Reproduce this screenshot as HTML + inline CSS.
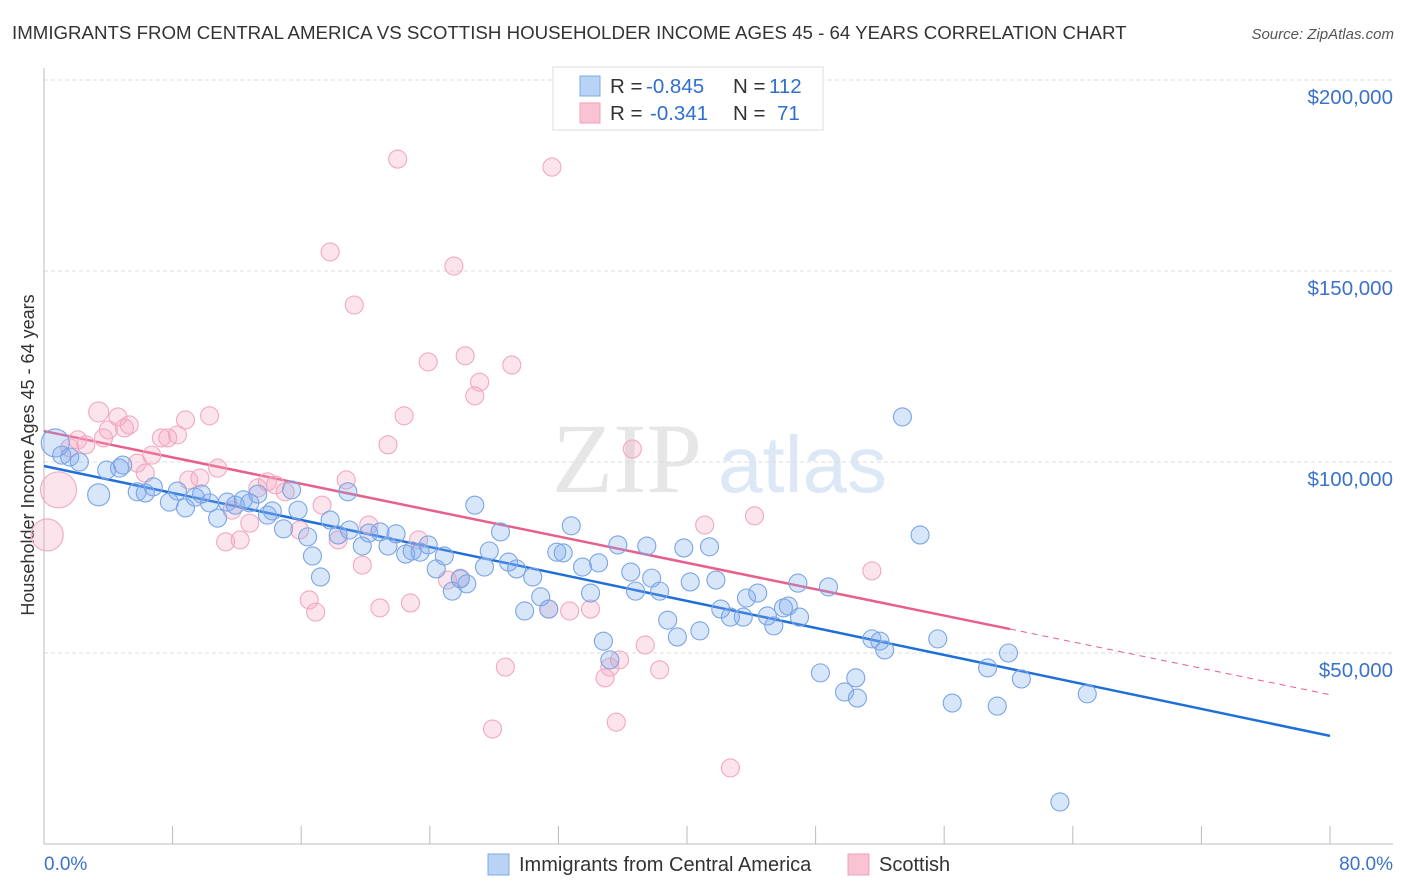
<!DOCTYPE html>
<html><head><meta charset="utf-8"><style>
body{margin:0;background:#fff;width:1406px;height:892px;overflow:hidden;font-family:"Liberation Sans",sans-serif}
svg{position:absolute;left:0;top:0}
</style></head><body>
<svg id="c" width="1406" height="892" xmlns="http://www.w3.org/2000/svg">
<text x="12" y="39" font-size="18.7" fill="#333">IMMIGRANTS FROM CENTRAL AMERICA VS SCOTTISH HOUSEHOLDER INCOME AGES 45 - 64 YEARS CORRELATION CHART</text>
<text x="1394" y="39" font-size="15" fill="#555" font-style="italic" text-anchor="end">Source: ZipAtlas.com</text>
<text transform="translate(34,455) rotate(-90)" font-size="18" fill="#333" text-anchor="middle">Householder Income Ages 45 - 64 years</text>
<g>
<text x="552" y="492" font-size="100" font-family="Liberation Serif,serif" fill="#e6e6e6">ZIP</text>
<text x="718" y="492" font-size="80" fill="#dde8f6">atlas</text>
</g>
<g id="grid"></g><g id="axes"></g><g id="lines"></g><g id="pts"></g>
<g>
<rect x="553" y="67" width="270" height="63" fill="#fff" stroke="#ddd"/>
<rect x="580" y="76" width="20" height="20" fill="#b9d3f5" stroke="#7fa9e6"/>
<rect x="580" y="103" width="20" height="20" fill="#f9c3d3" stroke="#f0a0b8"/>
<g font-size="20.5" fill="#333">
<text x="610" y="93">R =</text><text x="646" y="93" fill="#2e6fd0">-0.845</text><text x="733" y="93">N =</text><text x="769" y="93" fill="#2e6fd0">112</text>
<text x="610" y="120">R =</text><text x="650" y="120" fill="#2e6fd0">-0.341</text><text x="733" y="120">N =</text><text x="777" y="120" fill="#2e6fd0">71</text>
</g>
</g>
<g>
<rect x="488" y="854" width="21" height="21" fill="#b9d3f5" stroke="#7fa9e6"/>
<text x="519" y="871" font-size="20" fill="#333">Immigrants from Central America</text>
<rect x="848" y="854" width="21" height="21" fill="#f9c3d3" stroke="#f0a0b8"/>
<text x="879" y="871" font-size="20" fill="#333">Scottish</text>
</g>
</svg>
<script>
const yTicks=[50,100,150,200];
const xTickCount=10;
const blueX=[0.7,1.1,1.6,2.2,3.4,3.9,4.7,4.9,5.8,6.3,6.8,7.8,8.3,8.8,9.4,9.8,10.3,10.8,11.4,11.9,12.4,12.8,13.3,13.9,14.2,14.9,15.4,15.8,16.4,16.7,17.2,17.8,18.3,18.9,19.0,19.8,20.2,20.9,21.4,21.9,22.5,22.9,23.4,23.9,24.4,24.9,25.4,25.9,26.3,26.8,27.4,27.7,28.4,28.9,29.4,29.9,30.4,30.9,31.4,31.9,32.3,32.8,33.5,34.0,34.5,34.8,35.2,35.7,36.5,36.8,37.5,37.8,38.3,38.8,39.4,39.8,40.2,40.8,41.4,41.8,42.1,42.7,43.5,43.7,44.4,45.0,45.4,46.0,46.3,46.9,47.0,48.3,48.8,49.8,50.5,50.6,51.5,52.0,52.3,53.4,54.5,55.6,56.5,58.7,59.3,60.0,60.8,63.2,64.9];
const blueY=[105.0,101.8,101.3,100.0,91.4,97.9,98.4,99.2,92.2,91.9,93.5,89.5,92.4,88.0,90.8,91.6,89.3,85.3,89.5,88.7,90.1,89.3,91.6,86.1,87.2,82.5,92.7,87.4,80.4,75.4,69.9,84.8,80.9,92.2,82.2,78.0,81.4,81.7,78.0,81.2,75.9,76.7,76.4,78.3,72.0,75.4,66.2,69.4,68.1,88.7,72.5,76.7,81.7,73.8,72.0,61.0,69.9,64.7,61.5,76.4,76.2,83.3,72.5,65.7,73.6,53.1,48.2,78.3,71.2,66.2,78.0,69.6,66.2,58.6,54.2,77.5,68.6,55.8,77.8,69.1,61.5,59.4,59.4,64.4,65.7,59.7,57.1,61.8,62.3,68.3,59.4,44.8,67.3,39.8,43.5,38.2,53.7,53.1,50.8,111.8,80.9,53.7,36.9,46.1,36.1,50.0,43.2,11.0,39.3];
const blueSize=[14,9,9,9,11];
const pinkX=[0.2,0.9,1.6,2.1,2.6,3.4,3.7,4.0,4.6,5.0,5.3,5.8,6.3,6.7,7.3,7.7,8.3,8.8,10.3,9.0,9.7,10.8,11.3,11.7,12.2,12.8,13.3,13.9,14.4,15.0,15.9,16.5,16.9,17.3,17.8,18.3,18.8,19.3,19.8,20.2,20.9,21.4,22.0,22.4,22.8,23.3,23.9,25.1,25.5,25.9,26.2,26.8,27.1,27.9,28.7,29.1,31.4,31.6,32.7,34.0,34.9,35.2,35.6,35.8,36.6,37.4,38.3,41.1,42.7,44.2,51.5];
const pinkY=[80.9,92.7,103.7,105.8,104.5,113.1,106.3,108.4,111.8,108.9,109.7,99.7,97.1,101.8,106.3,106.3,107.1,111.0,112.1,95.3,95.8,98.4,79.1,87.4,79.6,84.0,93.2,94.8,94.0,92.2,82.2,63.9,60.7,88.7,155.0,79.6,95.3,141.1,73.0,83.5,61.8,104.5,179.3,112.1,63.1,79.6,126.2,69.1,151.3,69.6,127.8,117.3,120.9,30.1,46.3,125.4,61.5,177.2,61.0,61.5,43.5,46.3,31.9,48.2,103.4,52.1,45.6,83.5,19.9,85.9,71.5];
const pinkSize=[16,18,9,9,9,10];
const blueLine=[98.95,28.3];
const pinkLine=[108.1,39.1];
const pinkSolidEnd=60.1;

const NS="http://www.w3.org/2000/svg";
const X=v=>44+v*(1286/80);
const Y=v=>844-v*191/50;
function mk(t,a,p){const e=document.createElementNS(NS,t);for(const k in a)e.setAttribute(k,a[k]);p.appendChild(e);return e;}
const grid=document.getElementById('grid'),axes=document.getElementById('axes'),lines=document.getElementById('lines'),pts=document.getElementById('pts');
yTicks.forEach(v=>{
 const l=mk('line',{x1:44,x2:1393,y1:Y(v),y2:Y(v),stroke:'#ddd','stroke-dasharray':'4,3'},grid);
 
 
 const t=mk('text',{x:1393,y:Y(v)+24,'font-size':20.5,fill:'#3b73c9','text-anchor':'end'},axes);
 t.textContent='$'+v+',000';
 
 
});
const ax=mk('line',{x1:44,x2:1393,y1:844,y2:844,stroke:'#bbb'},axes);


const ay=mk('line',{x1:44,x2:44,y1:68,y2:844,stroke:'#bbb'},axes);


for(let i=1;i<=xTickCount;i++){const t=mk('line',{x1:X(i*8),x2:X(i*8),y1:826,y2:844,stroke:'#bbb'},axes);
 
 }
[[0,'0.0%','start',44],[80,'80.0%','end',1393]].forEach(d=>{const t=mk('text',{x:d[3],y:870,'font-size':19,fill:'#3b73c9','text-anchor':d[2]},axes);t.textContent=d[1];
 
 });
const lf=(c,x)=>c[0]+(c[1]-c[0])*x/80;
const bl=mk('line',{x1:X(0),y1:Y(lf(blueLine,0)),x2:X(80),y2:Y(lf(blueLine,80)),stroke:'#1f6fd8','stroke-width':2.5},lines);


const pl=mk('line',{x1:X(0),y1:Y(lf(pinkLine,0)),x2:X(pinkSolidEnd),y2:Y(lf(pinkLine,pinkSolidEnd)),stroke:'#e8608a','stroke-width':2.5},lines);


const pd=mk('line',{x1:X(pinkSolidEnd),y1:Y(lf(pinkLine,pinkSolidEnd)),x2:X(80),y2:Y(lf(pinkLine,80)),stroke:'#e8608a','stroke-width':1,'stroke-dasharray':'6,5'},lines);


pinkX.forEach((x,i)=>{const c=mk('circle',{cx:X(x),cy:Y(pinkY[i]),r:pinkSize[i]||9,fill:'rgba(246,165,192,0.3)',stroke:'#f2a8bf','stroke-width':1.1},pts);
 
 });
blueX.forEach((x,i)=>{const c=mk('circle',{cx:X(x),cy:Y(blueY[i]),r:blueSize[i]||9,fill:'rgba(125,172,238,0.3)',stroke:'#7aa5e4','stroke-width':1.1},pts);
 
 });
</script>
</body></html>
